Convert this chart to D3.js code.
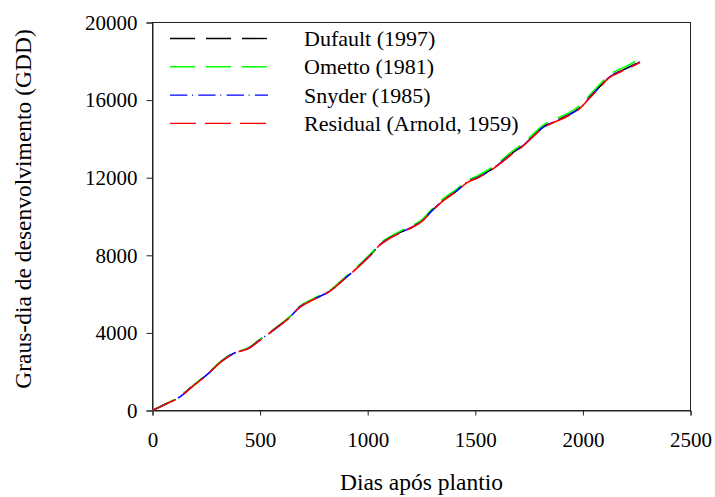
<!DOCTYPE html>
<html>
<head>
<meta charset="utf-8">
<script src="https://cdn.jsdelivr.net/npm/d3@7"></script>
<style>
  html, body { margin: 0; padding: 0; background: #fff; }
  svg { display: block; font-family: "Liberation Serif", "Times New Roman", serif; }
</style>
</head>
<body>
<svg id="chart" width="715" height="497"></svg>
<script>
// ---- Data ----
const days = [0, 60, 120, 180, 259, 321, 376, 453, 484, 540, 592, 631, 685, 747, 825, 887, 964, 1026, 1049, 1096, 1150, 1212, 1251, 1300, 1359, 1414, 1460, 1514, 1568, 1615, 1677, 1716, 1770, 1816, 1871, 1930, 1987, 2025, 2080, 2126, 2172, 2220, 2265];
const dufault  = [0, 330, 660, 1200, 1918, 2550, 2948, 3257, 3520, 3980, 4407, 4753, 5351, 5731, 6170, 6750, 7500, 8186, 8480, 8860, 9180, 9500, 9770, 10330, 10910, 11340, 11770, 12040, 12380, 12760, 13320, 13620, 14170, 14620, 14920, 15220, 15620, 16070, 16720, 17220, 17480, 17730, 17980];
const ometto   = [0, 333, 666, 1210, 1930, 2565, 2965, 3275, 3540, 4000, 4430, 4778, 5380, 5762, 6205, 6790, 7545, 8235, 8530, 8912, 9235, 9558, 9830, 10395, 10980, 11412, 11845, 12117, 12460, 12842, 13405, 13707, 14260, 14712, 15015, 15318, 15720, 16175, 16830, 17335, 17598, 17850, 18150];
const snyder   = [0, 325, 650, 1190, 1905, 2535, 2935, 3245, 3505, 3965, 4395, 4740, 5335, 5720, 6160, 6740, 7490, 8170, 8465, 8845, 9165, 9485, 9755, 10315, 10895, 11325, 11755, 12025, 12365, 12745, 13305, 13605, 14155, 14605, 14905, 15205, 15605, 16055, 16705, 17205, 17465, 17715, 17965];
const residual = [0, 322, 645, 1185, 1900, 2530, 2930, 3238, 3500, 3958, 4388, 4733, 5328, 5712, 6150, 6730, 7478, 8160, 8455, 8833, 9152, 9470, 9740, 10300, 10878, 11305, 11735, 12005, 12345, 12722, 13282, 13580, 14130, 14580, 14880, 15180, 15580, 16030, 16680, 17180, 17440, 17690, 17940];

const seriesNames = ["Dufault (1997)", "Ometto (1981)", "Snyder (1985)", "Residual (Arnold, 1959)"];
const seriesValues = [dufault, ometto, snyder, residual];
const seriesColors = ["#000000", "#00ff00", "#0000ff", "#ff0000"];
const seriesDashes = ["25,11", "25,11", "17.3,4.7,1,5.3", "26,9"];

const xTicks = [0, 500, 1000, 1500, 2000, 2500];
const yTicks = [0, 4000, 8000, 12000, 16000, 20000];

// ---- Layout ----
const svg = d3.select("#chart");
const pLeft = 152.5, pRight = 690.5, pTop = 22.5, pBottom = 410.5;

const x = d3.scaleLinear().domain([0, 2500]).range([pLeft, pRight]);
const y = d3.scaleLinear().domain([0, 20000]).range([pBottom, pTop]);

// frame
svg.append("rect")
  .attr("x", pLeft).attr("y", pTop)
  .attr("width", pRight - pLeft).attr("height", pBottom - pTop)
  .attr("fill", "none").attr("stroke", "#222").attr("stroke-width", 1);

// axes
const xAxis = svg.append("g")
  .attr("transform", `translate(0,${pBottom})`)
  .call(d3.axisBottom(x).tickValues(xTicks).tickSize(5).tickPadding(17).tickFormat(d3.format("d")));
const yAxis = svg.append("g")
  .attr("transform", `translate(${pLeft},0)`)
  .call(d3.axisLeft(y).tickValues(yTicks).tickSize(6).tickPadding(9).tickFormat(d3.format("d")));

[xAxis, yAxis].forEach(g => {
  g.select(".domain").attr("stroke", "#222");
  g.selectAll(".tick line").attr("stroke", "#222");
  g.selectAll(".tick text")
    .attr("fill", "#000")
    .style("font-family", '"Liberation Serif", "Times New Roman", serif')
    .style("font-size", "21px");
});

// axis titles
svg.append("text")
  .attr("x", (pLeft + pRight) / 2).attr("y", 490)
  .attr("text-anchor", "middle")
  .style("font-size", "23.5px")
  .text("Dias após plantio");

svg.append("text")
  .attr("transform", `translate(31,209) rotate(-90)`)
  .attr("text-anchor", "middle")
  .style("font-size", "23.5px")
  .text("Graus-dia de desenvolvimento (GDD)");

// lines
const line = d3.line()
  .x((d, i) => x(days[i]))
  .y(d => y(d))
  .curve(d3.curveMonotoneX);

seriesValues.forEach((vals, k) => {
  svg.append("path")
    .datum(vals)
    .attr("d", line)
    .attr("fill", "none")
    .attr("stroke", seriesColors[k])
    .attr("stroke-width", 1.6)
    .attr("stroke-dasharray", seriesDashes[k]);
});

// legend
const legend = svg.append("g");
seriesNames.forEach((name, k) => {
  const yy = 38.5 + k * 28.3;
  legend.append("line")
    .attr("x1", 170).attr("x2", 268)
    .attr("y1", yy).attr("y2", yy)
    .attr("stroke", seriesColors[k])
    .attr("stroke-width", 1.4)
    .attr("stroke-dasharray", seriesDashes[k]);
  legend.append("text")
    .attr("x", 304).attr("y", yy + 7.5)
    .style("font-size", "22px")
    .text(name);
});
</script>
</body>
</html>
